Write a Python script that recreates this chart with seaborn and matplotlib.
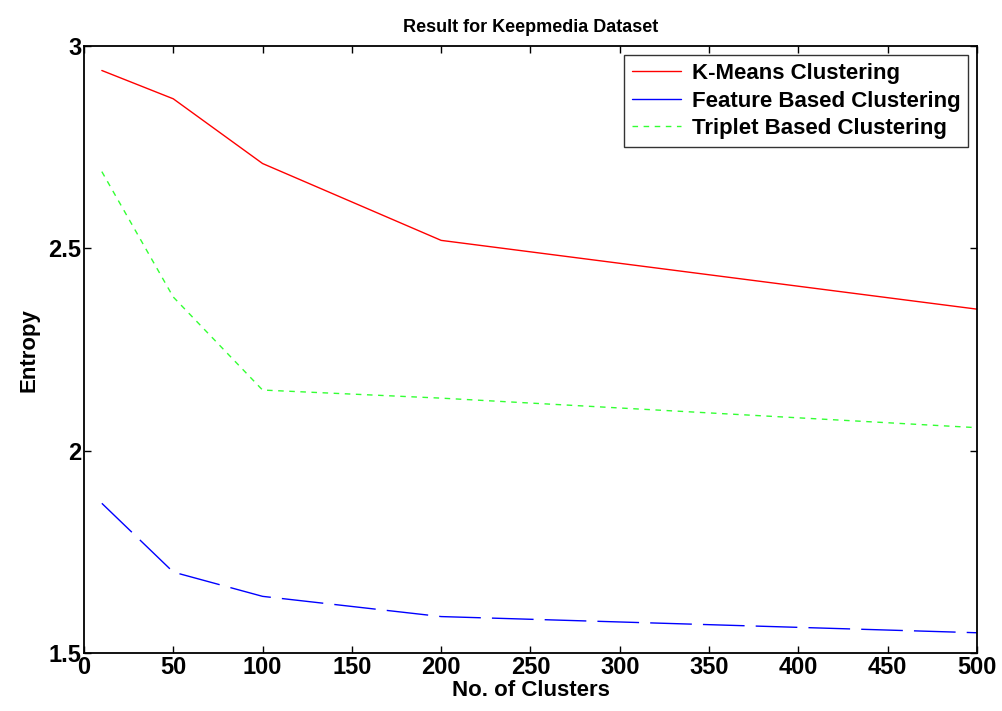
import seaborn as sns
import matplotlib.pyplot as plt

# values
clusters = [10, 50, 100, 200, 500]
kmeans = [2.94, 2.87, 2.71, 2.52, 2.35]
feature = [1.87, 1.70, 1.64, 1.59, 1.55]
triplet = [2.69, 2.38, 2.15, 2.13, 2.057]


def seaborn_settings():
    '''
    MATLAB-like look: white background, inward ticks on all sides, bold Arial-style text
    '''
    sns.set_style('ticks')
    plt.rcParams['font.family'] = ['Liberation Sans', 'DejaVu Sans']
    plt.rcParams['font.weight'] = 'bold'
    plt.rcParams['text.color'] = 'black'
    plt.rcParams['axes.labelcolor'] = 'black'
    plt.rcParams['xtick.color'] = 'black'
    plt.rcParams['ytick.color'] = 'black'
    plt.rcParams['axes.edgecolor'] = 'black'
    plt.rcParams['xtick.direction'] = 'in'
    plt.rcParams['ytick.direction'] = 'in'
    plt.rcParams['xtick.top'] = True
    plt.rcParams['ytick.right'] = True


seaborn_settings()
fig = plt.figure(figsize=(10.02, 7.11), dpi=100)
ax = fig.add_axes([0.0838, 0.0816, 0.8912, 0.8534])

sns.lineplot(x=clusters, y=kmeans, ax=ax, color='red', lw=1, label='K-Means Clustering')
sns.lineplot(x=clusters, y=feature, ax=ax, color='blue', lw=1, label='Feature Based Clustering')
sns.lineplot(x=clusters, y=triplet, ax=ax, color='#33ff33', lw=1, label='Triplet Based Clustering')
ax.lines[1].set_dashes([30, 8])
ax.lines[2].set_dashes([4, 4])

ax.set_xlim(0, 500)
ax.set_ylim(1.5, 3)
ax.set_xticks(range(0, 501, 50))
ax.set_yticks([1.5, 2, 2.5, 3])
ax.set_yticklabels(['1.5', '2', '2.5', '3'])
ax.tick_params(labelsize=17, length=5, width=1, pad=2)
for s in ax.spines.values():
    s.set_linewidth(1.3)

ax.set_title('Result for Keepmedia Dataset', fontsize=13, fontweight='bold', pad=10)
ax.set_xlabel('No. of Clusters', fontsize=16, fontweight='bold', labelpad=1)
ax.set_ylabel('Entropy', fontsize=16, fontweight='bold', labelpad=6)

leg = ax.legend(loc='upper right', fontsize=16, frameon=True, fancybox=False,
                edgecolor='black', handlelength=2.2, handletextpad=0.5,
                borderaxespad=0.4, labelspacing=0.3, borderpad=0.35)
leg.get_frame().set_linewidth(1)
leg.get_lines()[1].set_linestyle('-')

plt.savefig('out.png', dpi=100)
